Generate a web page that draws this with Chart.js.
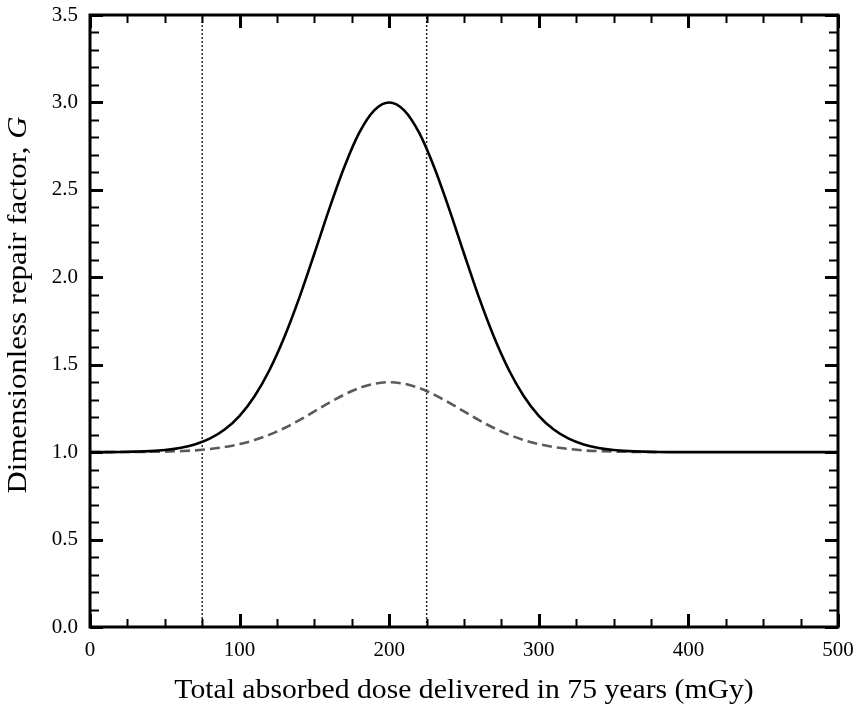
<!DOCTYPE html>
<html>
<head>
<meta charset="utf-8">
<script src="https://cdn.jsdelivr.net/npm/chart.js@4.4.1/dist/chart.umd.min.js"></script>
<style>
  html, body { margin: 0; padding: 0; background: #ffffff; }
  #wrap { width: 856px; height: 708px; }
</style>
</head>
<body>
<div id="wrap"><canvas id="c" width="856" height="708"></canvas></div>
<script>
// ---- Data ----
const doseSolid = [0,10,20,30,40,50,60,70,80,90,100,110,120,130,140,150,160,170,180,190,200,
  210,220,230,240,250,260,270,280,290,300,310,320,330,340,350,360,370,380,390,400,
  410,420,430,440,450,460,470,480,490,500];
const repairSolid = [1.000,1.000,1.001,1.003,1.006,1.012,1.024,1.044,1.077,1.129,1.208,1.320,1.470,1.660,1.885,2.136,2.393,2.631,2.827,2.955,3.000,
  2.955,2.827,2.631,2.393,2.136,1.885,1.660,1.470,1.320,1.208,1.129,1.077,1.044,1.024,1.012,1.006,1.003,1.001,1.000,1.000,
  1.000,1.000,1.000,1.000,1.000,1.000,1.000,1.000,1.000,1.000];
const doseDashed = [0,10,20,30,40,50,60,70,80,90,100,110,120,130,140,150,160,170,180,190,200,
  210,220,230,240,250,260,270,280,290,300,310,320,330,340,350,360,370,380];
const repairDashed = [1.000,1.000,1.001,1.001,1.002,1.003,1.006,1.010,1.018,1.029,1.046,1.069,1.100,1.138,1.183,1.233,1.283,1.329,1.367,1.391,1.400,
  1.391,1.367,1.329,1.283,1.233,1.183,1.138,1.100,1.069,1.046,1.029,1.018,1.010,1.006,1.003,1.002,1.001,1.000];
const markerDoses = [75, 225];
const xTickLabels = [0,100,200,300,400,500];
const yTickLabels = [0.0,0.5,1.0,1.5,2.0,2.5,3.0,3.5];
const xTitle = 'Total absorbed dose delivered in 75 years (mGy)';
const yTitleMain = 'Dimensionless repair factor, ';
const yTitleSym = 'G';

const SERIF = '"Liberation Serif", "DejaVu Serif", serif';

const toPts = (xs, ys) => xs.map((x, i) => ({x: x, y: ys[i]}));

const datasets = [];
markerDoses.forEach(d => {
  datasets.push({
    data: [{x: d, y: 0}, {x: d, y: 3.5}],
    borderColor: '#1a1a1a', borderWidth: 1.4, borderDash: [2, 2],
    pointRadius: 0, fill: false, order: 3
  });
});
datasets.push({
  data: toPts(doseDashed, repairDashed),
  borderColor: '#5a5a5a', borderWidth: 2.6, borderDash: [10, 5],
  pointRadius: 0, fill: false, cubicInterpolationMode: 'monotone', order: 2
});
datasets.push({
  data: toPts(doseSolid, repairSolid),
  borderColor: '#000000', borderWidth: 2.6,
  pointRadius: 0, fill: false, cubicInterpolationMode: 'monotone', order: 1
});

const framePlugin = {
  id: 'frame',
  afterDatasetsDraw(chart) {
    const ctx = chart.ctx;
    const a = chart.chartArea;
    const xs = chart.scales.x, ys = chart.scales.y;
    ctx.save();
    ctx.strokeStyle = '#000';
    ctx.lineCap = 'butt';
    // x ticks (bottom & top)
    for (let v = 0; v <= 500; v += 25) {
      const px = Math.round(xs.getPixelForValue(v)) + 0.5;
      const major = v % 100 === 0;
      const len = major ? 13 : 8;
      ctx.lineWidth = major ? 3 : 2;
      ctx.beginPath();
      ctx.moveTo(px, a.bottom); ctx.lineTo(px, a.bottom - len);
      ctx.moveTo(px, a.top); ctx.lineTo(px, a.top + len);
      ctx.stroke();
    }
    // y ticks (left & right)
    for (let i = 0; i <= 35; i++) {
      const v = i / 10;
      const py = Math.round(ys.getPixelForValue(v)) + 0.5;
      const major = i % 5 === 0;
      const len = major ? 13 : 9;
      ctx.lineWidth = major ? 3 : 2;
      ctx.beginPath();
      ctx.moveTo(a.left, py); ctx.lineTo(a.left + len, py);
      ctx.moveTo(a.right, py); ctx.lineTo(a.right - len, py);
      ctx.stroke();
    }
    // frame
    ctx.lineWidth = 3;
    ctx.strokeRect(a.left, a.top, a.right - a.left, a.bottom - a.top);
    // titles
    ctx.fillStyle = '#000';
    ctx.textBaseline = 'alphabetic';
    // x title
    ctx.save();
    ctx.translate((a.left + a.right) / 2, 698);
    ctx.scale(1.1, 1);
    ctx.font = '27px ' + SERIF;
    ctx.textAlign = 'center';
    ctx.fillText(xTitle, 0, 0);
    ctx.restore();
    // y title
    ctx.save();
    ctx.translate(26, 305);
    ctx.rotate(-Math.PI / 2);
    ctx.scale(1.1, 1);
    ctx.font = '28px ' + SERIF;
    const w1 = ctx.measureText(yTitleMain).width;
    ctx.font = 'italic 28px ' + SERIF;
    const w2 = ctx.measureText(yTitleSym).width;
    const start = -(w1 + w2) / 2;
    ctx.textAlign = 'left';
    ctx.font = '28px ' + SERIF;
    ctx.fillText(yTitleMain, start, 0);
    ctx.font = 'italic 28px ' + SERIF;
    ctx.fillText(yTitleSym, start + w1, 0);
    ctx.restore();
    ctx.restore();
  }
};

new Chart(document.getElementById('c'), {
  type: 'line',
  data: { datasets: datasets },
  options: {
    responsive: false,
    animation: false,
    layout: { padding: { top: 15, right: 18, left: 0, bottom: 0 } },
    plugins: { legend: { display: false }, tooltip: { enabled: false } },
    scales: {
      x: {
        type: 'linear', min: 0, max: 500,
        afterBuildTicks: s => { s.ticks = xTickLabels.map(v => ({value: v})); },
        afterFit: s => { s.height = 81; s.paddingLeft = 0; s.paddingRight = 0; },
        grid: { display: false, drawTicks: false },
        border: { display: false },
        ticks: { color: '#000', font: { family: SERIF, size: 21 }, padding: 11, maxRotation: 0,
                 callback: v => String(v) }
      },
      y: {
        type: 'linear', min: 0, max: 3.5,
        afterBuildTicks: s => { s.ticks = yTickLabels.map(v => ({value: v})); },
        afterFit: s => { s.width = 90; s.paddingTop = 0; s.paddingBottom = 0; },
        grid: { display: false, drawTicks: false },
        border: { display: false },
        ticks: { color: '#000', font: { family: SERIF, size: 21 }, padding: 12,
                 callback: v => Number(v).toFixed(1) }
      }
    }
  },
  plugins: [framePlugin]
});
</script>
</body>
</html>
